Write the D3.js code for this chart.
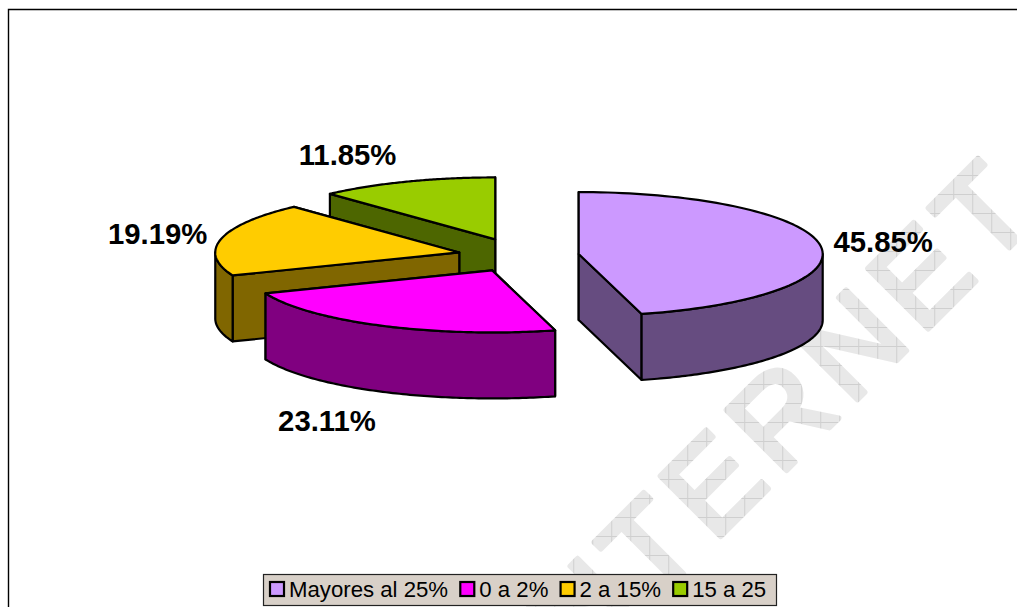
<!DOCTYPE html>
<html>
<head>
<meta charset="utf-8">
<script src="https://cdnjs.cloudflare.com/ajax/libs/d3/7.8.5/d3.min.js"></script>
<style>html,body{margin:0;padding:0;background:#fff;overflow:hidden}svg{display:block}</style>
</head>
<body>
<script>
const categories = ["Mayores al 25%", "0 a 2%", "2 a 15%", "15 a 25"];
const values = [45.85, 23.11, 19.19, 11.85];
const labels = ["45.85%", "23.11%", "19.19%", "11.85%"];
const topColors = ["#CC99FF", "#FF00FF", "#FFCC00", "#99CC00"];
const sideColors = ["#664C80", "#800080", "#806600", "#4D6600"];
const explode = [58.5, 63.5, 63, 70];
const labelRadial = [1.25, 1.5, 1.255, 1.45];
const labelNudge = [2, -1, -3, -19];
const labelLift = [-3, 1, -2, -1];
const watermark = "INTERNET";

const W = 1017, H = 607;
const CX = 520.7, CY = 256, RX = 244, RY = 62, DEPTH = 66;

const svg = d3.select("body").append("svg").attr("width", W).attr("height", H);
const defs = svg.append("defs");
const pat = defs.append("pattern").attr("id", "hatch").attr("patternUnits", "userSpaceOnUse")
  .attr("width", 19).attr("height", 19).attr("patternTransform", "translate(3 3) rotate(45)");
pat.append("rect").attr("width", 19).attr("height", 19).attr("fill", "#E8E8E8");
pat.append("path").attr("d", "M0 .5H19M.5 0V19").attr("stroke", "#CFCFCF").attr("fill", "none");

svg.append("rect").attr("width", W).attr("height", H).attr("fill", "#fff");

// Watermark
const wmClip = defs.append("clipPath").attr("id", "pageClip");
wmClip.append("rect").attr("width", W).attr("height", H);
svg.append("g").attr("clip-path", "url(#pageClip)").append("text").text(watermark)
  .attr("transform", "translate(550 707) rotate(-45)")
  .attr("font-family", "Liberation Sans").attr("font-size", 124)
  .attr("letter-spacing", 10.5)
  .attr("fill", "url(#hatch)").attr("stroke", "url(#hatch)")
  .attr("stroke-width", 5.5).attr("stroke-linejoin", "round");

// Frame
svg.append("path").attr("d", "M8.5 607V9.5H1017")
  .attr("fill", "none").attr("stroke", "#000").attr("stroke-width", 1.4);

// Pie
const arcs = d3.pie().sort(null).value(d => d).startAngle(0).endAngle(2 * Math.PI)(values);
const sx = d3.scaleLinear().domain([-1, 1]).range([-RX, RX]);
const sy = d3.scaleLinear().domain([-1, 1]).range([-RY, RY]);
const line = d3.line();
const center = (a, i) => {
  const m = (a.startAngle + a.endAngle) / 2;
  return [CX + explode[i] * Math.sin(m), CY - explode[i] * Math.cos(m) * RY / RX];
};
const rim = (c, t, dz = 0) => [c[0] + sx(Math.sin(t)), c[1] - sy(Math.cos(t)) + dz];
const arcPts = (c, t0, t1, dz = 0) => d3.range(0, 97).map(k => rim(c, t0 + (t1 - t0) * k / 96, dz));

const order = [3, 2, 1, 0];
const g = svg.append("g").attr("stroke", "#000").attr("stroke-width", 2.2).attr("stroke-linejoin", "round");
order.forEach(i => {
  const a = arcs[i], c = center(a, i);
  const cuts = [a.startAngle, a.endAngle].sort((p, q) => rim(c, p)[1] - rim(c, q)[1]);
  cuts.forEach(t => {
    const r = rim(c, t);
    g.append("path").attr("fill", sideColors[i])
      .attr("d", line([c, r, [r[0], r[1] + DEPTH], [c[0], c[1] + DEPTH]]) + "Z");
  });
  const w0 = Math.max(a.startAngle, Math.PI / 2), w1 = Math.min(a.endAngle, 3 * Math.PI / 2);
  if (w1 > w0) {
    const topEdge = arcPts(c, w0, w1), botEdge = arcPts(c, w1, w0, DEPTH);
    g.append("path").attr("fill", sideColors[i]).attr("d", line(topEdge.concat(botEdge)) + "Z");
  }
  g.append("path").attr("fill", topColors[i])
    .attr("d", line([c].concat(arcPts(c, a.startAngle, a.endAngle))) + "Z");
});

// Data labels
arcs.forEach((a, i) => {
  const c = center(a, i), m = (a.startAngle + a.endAngle) / 2;
  const front = Math.cos(m) < -0.5 ? DEPTH : 0;
  svg.append("text").text(labels[i])
    .attr("x", c[0] + labelRadial[i] * sx(Math.sin(m)) + labelNudge[i])
    .attr("y", c[1] - labelRadial[i] * sy(Math.cos(m)) + front + labelLift[i])
    .attr("dy", "0.36em").attr("text-anchor", "middle")
    .attr("font-family", "Liberation Sans").attr("font-weight", "bold")
    .attr("font-size", 29.3).attr("fill", "#000");
});

// Legend
const lg = svg.append("g");
lg.append("rect").attr("x", 263.5).attr("y", 574.5).attr("width", 513).attr("height", 31)
  .attr("fill", "#D8D0C8").attr("stroke", "#222").attr("stroke-width", 1.2);
let lx = 270;
categories.forEach((name, i) => {
  lg.append("rect").attr("x", lx).attr("y", 582).attr("width", 14).attr("height", 14)
    .attr("fill", topColors[i]).attr("stroke", "#000").attr("stroke-width", 2.2);
  const t = lg.append("text").text(name).attr("x", lx + 19).attr("y", 597)
    .attr("font-family", "Liberation Sans").attr("font-size", 22.2).attr("fill", "#000");
  lx += 19 + t.node().getComputedTextLength() + 12.2;
});
</script>
</body>
</html>
